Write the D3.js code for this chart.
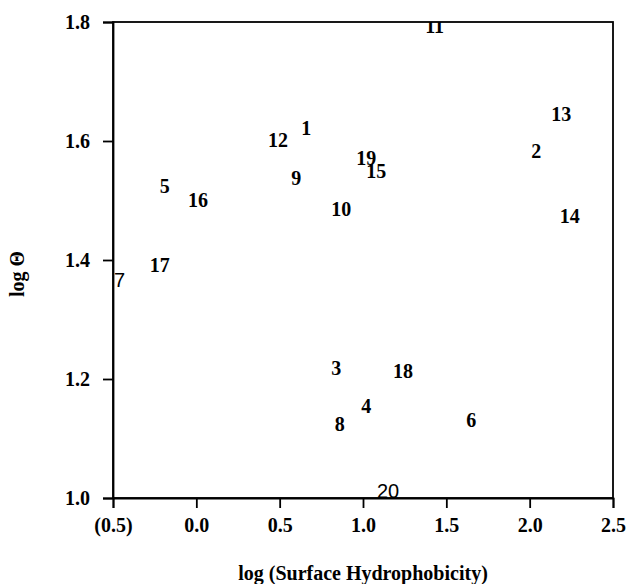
<!DOCTYPE html>
<html>
<head>
<meta charset="utf-8">
<script src="https://cdn.jsdelivr.net/npm/d3@7"></script>
<style>
  body { margin: 0; background: #fff; }
  text { font-family: "Liberation Serif", "Times New Roman", serif; }
</style>
</head>
<body>
<div id="chart"></div>
<script>
// point labels and their coordinates
const ids = ["1", "2", "3", "4", "5", "6", "7", "8", "9", "10",
             "11", "12", "13", "14", "15", "16", "17", "18", "19", "20"];
const logHydro = [0.66, 2.04, 0.84, 1.02, -0.19, 1.65, -0.46, 0.86, 0.60, 0.87,
                  1.43, 0.49, 2.19, 2.24, 1.08, 0.01, -0.22, 1.24, 1.02, 1.15];
const logTheta = [1.622, 1.583, 1.218, 1.155, 1.524, 1.131, 1.366, 1.124, 1.538, 1.486,
                  1.793, 1.602, 1.645, 1.474, 1.550, 1.501, 1.392, 1.213, 1.571, 1.011];

const xTicks = [-0.5, 0, 0.5, 1.0, 1.5, 2.0, 2.5];
const xTickLabels = ["(0.5)", "0.0", "0.5", "1.0", "1.5", "2.0", "2.5"];
const yTicks = [1.0, 1.2, 1.4, 1.6, 1.8];

const width = 628;
const height = 584;
const margin = { top: 22, right: 15, bottom: 86, left: 113 };

const svg = d3.select("#chart")
    .append("svg")
    .attr("width", width)
    .attr("height", height);

const x = d3.scaleLinear()
    .domain([-0.5, 2.5])
    .range([margin.left, width - margin.right]);

const y = d3.scaleLinear()
    .domain([1.0, 1.8])
    .range([height - margin.bottom, margin.top]);

// frame
svg.append("rect")
    .attr("x", x(-0.5))
    .attr("y", y(1.8))
    .attr("width", x(2.5) - x(-0.5))
    .attr("height", y(1.0) - y(1.8))
    .attr("fill", "none")
    .attr("stroke", "#000")
    .attr("stroke-width", 1.8);

const xAxis = svg.append("g")
    .attr("transform", `translate(0,${y(1.0)})`)
    .call(d3.axisBottom(x)
        .tickValues(xTicks)
        .tickFormat((d, i) => xTickLabels[i])
        .tickSize(10)
        .tickPadding(10));

const yAxis = svg.append("g")
    .attr("transform", `translate(${x(-0.5)},0)`)
    .call(d3.axisLeft(y)
        .tickValues(yTicks)
        .tickFormat(d3.format(".1f"))
        .tickSize(10)
        .tickPadding(13));

[xAxis, yAxis].forEach(g => {
    g.select(".domain").attr("stroke-width", 1.8);
    g.selectAll(".tick line").attr("stroke-width", 1.8);
    g.selectAll(".tick text")
        .attr("font-family", "Liberation Serif")
        .attr("font-weight", "bold")
        .attr("font-size", 20)
        .attr("fill", "#000");
});

svg.append("clipPath")
    .attr("id", "plot-clip")
    .append("rect")
    .attr("x", x(-0.5))
    .attr("y", y(1.8))
    .attr("width", x(2.5) - x(-0.5))
    .attr("height", y(1.0) - y(1.8));

const thinLabels = ["7", "20"];

svg.append("g")
    .attr("clip-path", "url(#plot-clip)")
    .selectAll("text")
    .data(ids)
    .enter().append("text")
    .attr("x", (d, i) => x(logHydro[i]))
    .attr("y", (d, i) => y(logTheta[i]))
    .attr("dy", "0.35em")
    .attr("text-anchor", "middle")
    .attr("font-size", 20)
    .attr("font-weight", d => thinLabels.includes(d) ? "normal" : "bold")
    .style("font-family", d => thinLabels.includes(d) ? "'Liberation Sans', sans-serif" : "'Liberation Serif', serif")
    .text(d => d);

// axis titles
svg.append("text")
    .attr("x", (x(-0.5) + x(2.5)) / 2)
    .attr("y", 580)
    .attr("text-anchor", "middle")
    .attr("font-size", 20)
    .attr("font-weight", "bold")
    .text("log (Surface Hydrophobicity)");

svg.append("text")
    .attr("transform", `translate(24,${(y(1.0) + y(1.8)) / 2 + 14}) rotate(-90)`)
    .attr("text-anchor", "middle")
    .attr("font-size", 20)
    .attr("font-weight", "bold")
    .text("log Θ");
</script>
</body>
</html>
